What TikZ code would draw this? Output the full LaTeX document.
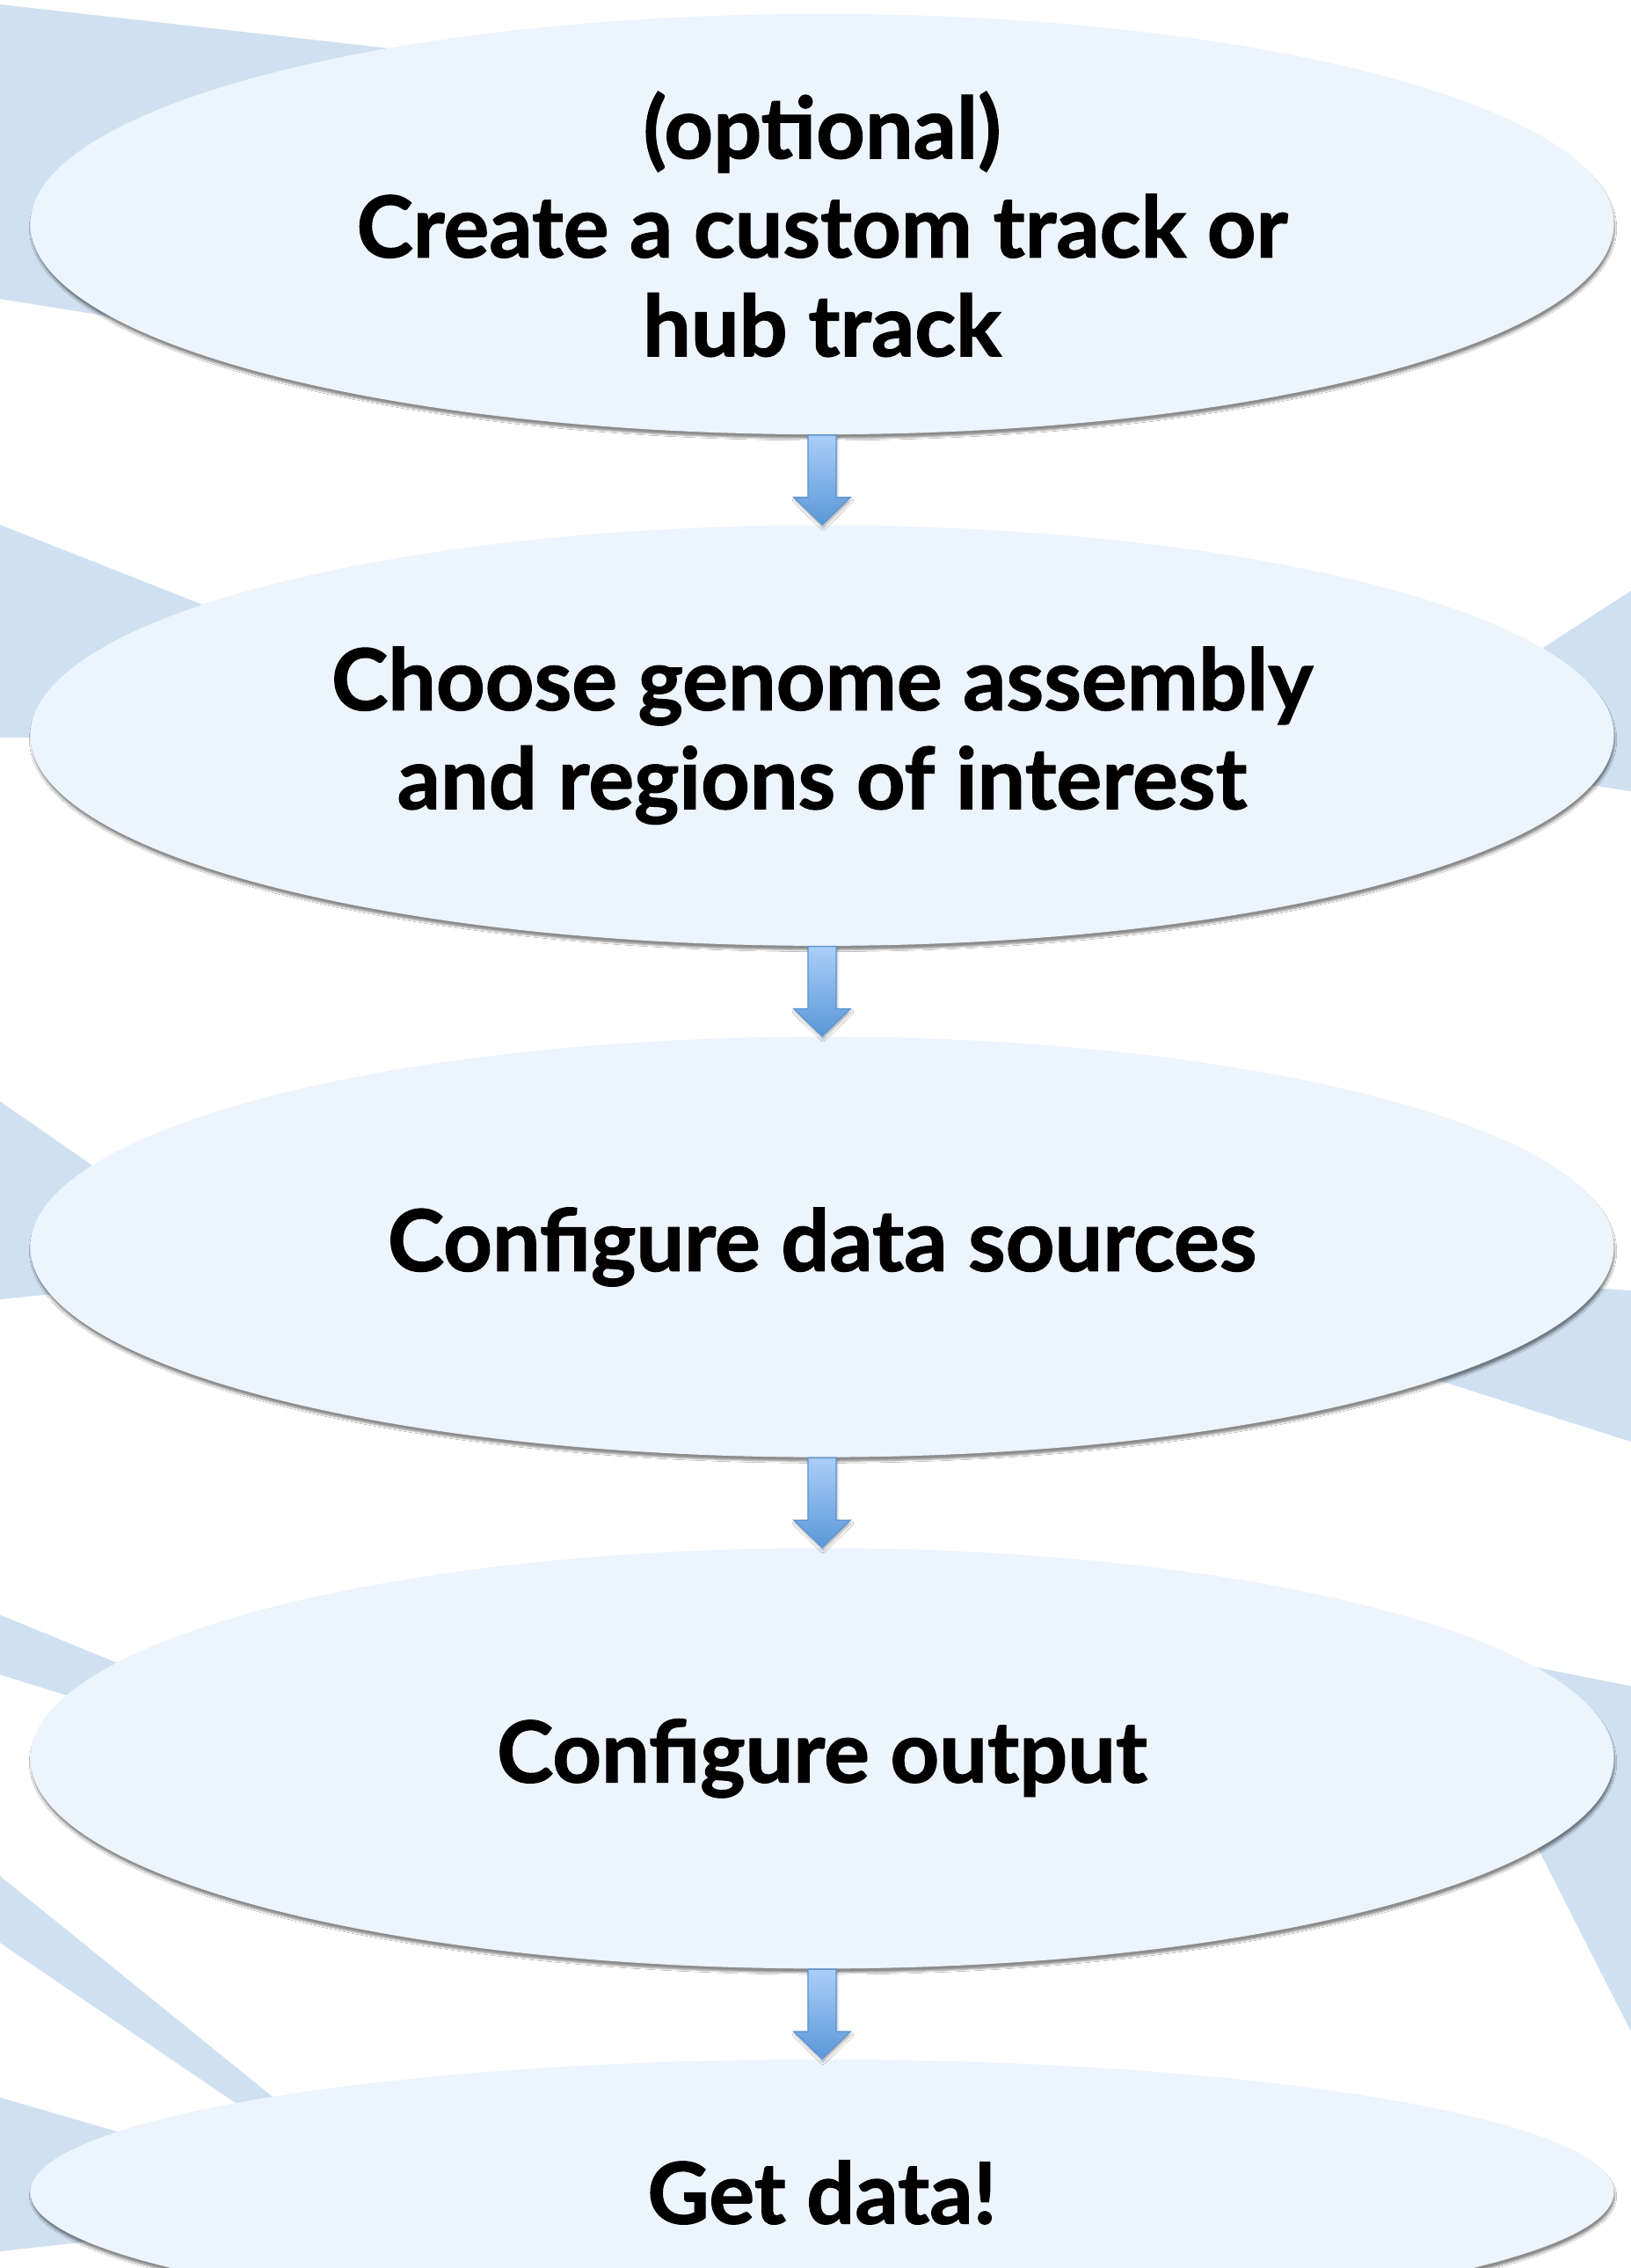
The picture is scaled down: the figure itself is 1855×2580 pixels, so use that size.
\documentclass[tikz,border=0pt]{standalone}
\usepackage{fontspec}
\setmainfont{Lato}[BoldFeatures={FakeBold=1.2}]
\usepackage{tikz}
\usetikzlibrary{calc,positioning,shapes.geometric,shadows.blur}
\definecolor{bgblue}{HTML}{CFE0F1}
\definecolor{stepfill}{HTML}{ECF4FD}
\definecolor{arrtop}{HTML}{AACEF8}
\definecolor{arrbot}{HTML}{5A97D8}
\definecolor{arredge}{HTML}{5F96D2}
\tikzset{
  bgwedge/.style={fill=bgblue,draw=none},
  stepnode/.style={ellipse,fill=stepfill,draw=none,inner sep=0pt,align=center,
    minimum width=18cm,minimum height=4.78cm,
    font=\fontsize{27.6}{32}\selectfont\bfseries,
    blur shadow={shadow xshift=0.3pt,shadow yshift=-1.3pt,shadow blur radius=0.6pt,shadow blur steps=6,shadow opacity=45}},
  flowarr/.style={draw=arredge,line width=0.4pt,top color=arrtop,bottom color=arrbot,
    blur shadow={shadow xshift=0.3pt,shadow yshift=-1pt,shadow blur radius=0.8pt,shadow opacity=30}}
}

\begin{document}
\begin{tikzpicture}[x=0.01cm,y=-0.01cm,node distance=1.02cm]
\useasboundingbox (0,0) rectangle (1855,2580);
\clip (0,0) rectangle (1855,2580);
\fill[white] (0,0) rectangle (1855,2580);
% background wedges
\fill[bgwedge] (0,5) -- (700,84) -- (700,452) -- (0,340) -- cycle;
\fill[bgwedge] (0,597) -- (614,839) -- (0,839) -- cycle;
\fill[bgwedge] (1855,672) -- (1570,857) -- (1855,900) -- cycle;
\fill[bgwedge] (0,1253) -- (285,1450) -- (0,1478) -- cycle;
\fill[bgwedge] (1855,1468) -- (1175,1423) -- (1855,1640) -- cycle;
\fill[bgwedge] (0,1837) -- (680,2116) -- (0,1905) -- cycle;
\fill[bgwedge] (1855,1918) -- (1633,1874) -- (1855,2311) -- cycle;
\fill[bgwedge] (0,2134) -- (585,2608) -- (0,2210) -- cycle;
\fill[bgwedge] (0,2386) -- (437,2513) -- (0,2561) -- cycle;
% steps
\node[stepnode] (s1) at (935,255) {(optional)\\Create a custom track or\\hub track};
\node[stepnode,below=of s1] (s2) {Choose genome assembly\\and regions of interest};
\node[stepnode,below=of s2] (s3) {Configure data sources};
\node[stepnode,below=of s3] (s4) {Configure output};
\node[stepnode,below=of s4,minimum height=3.02cm] (s5) {Get data!};
% block arrows
\foreach \a/\b in {s1/s2,s2/s3,s3/s4,s4/s5}
  \draw[flowarr] let \p1=(\a.south), \p2=(\b.north) in
    (\x1-0.16cm,\y1) -- (\x1+0.16cm,\y1) -- (\x1+0.16cm,\y2+0.31cm) -- (\x1+0.32cm,\y2+0.31cm)
    -- (\x1,\y2) -- (\x1-0.32cm,\y2+0.31cm) -- (\x1-0.16cm,\y2+0.31cm) -- cycle;
\end{tikzpicture}
\end{document}
